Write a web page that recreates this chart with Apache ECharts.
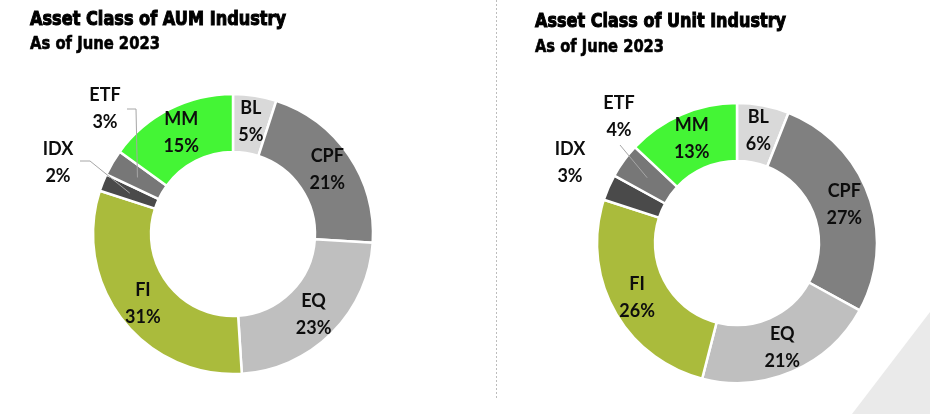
<!DOCTYPE html>
<html><head><meta charset="utf-8">
<script src="https://cdn.jsdelivr.net/npm/echarts@6/dist/echarts.min.js"></script>
<style>html,body{margin:0;padding:0;background:#fff}#c{width:930px;height:414px}</style>
</head><body><div id="c"></div>
<script>
const categories = ['BL', 'CPF', 'EQ', 'FI', 'IDX', 'ETF', 'MM'];
const aumValues = [5, 21, 23, 31, 2, 3, 15];
const unitValues = [6, 27, 21, 26, 3, 4, 13];
const colors = ['#d9d9d9', '#808080', '#bfbfbf', '#aabb3c', '#4a4a4a', '#777777', '#44f535'];
const chartTitles = ['Asset Class of AUM Industry', 'Asset Class of Unit Industry'];
const chartSubtitle = 'As of June 2023';

const R_IN = 82, R_OUT = 140;

function fitScale(text, px, target) {
  const ctx = document.createElement('canvas').getContext('2d');
  ctx.font = 'bold ' + px + 'px "DejaVu Sans"';
  return target / ctx.measureText(text).width;
}

function midPoint(values, idx, center) {
  const total = values.reduce((a, b) => a + b, 0);
  let cum = 0;
  for (let i = 0; i < idx; i++) cum += values[i];
  const frac = (cum + values[idx] / 2) / total;
  const ang = frac * 2 * Math.PI;
  const r = (R_IN + R_OUT) / 2;
  return [center[0] + r * Math.sin(ang), center[1] - r * Math.cos(ang)];
}

// outer label placement (layout only)
const outerLayouts = [
  { ETF: { pos: [105, 109], line: [[127, 109], [136, 109]] },
    IDX: { pos: [58, 163], line: [[80, 161], [90, 161]] } },
  { ETF: { pos: [619, 117], line: [[620, 145], [620, 145]] },
    IDX: { pos: [570, 163], line: null } }
];
const centers = [[233, 234], [737, 243]];
const seriesValues = [aumValues, unitValues];

function makeSeries(values, k) {
  const center = centers[k];
  const outer = outerLayouts[k];
  return {
    type: 'pie',
    center: center,
    radius: [R_IN, R_OUT],
    startAngle: 90,
    clockwise: true,
    avoidLabelOverlap: false,
    animation: false,
    itemStyle: { borderColor: '#fff', borderWidth: 2.5 },
    label: {
      show: true, position: 'inside', formatter: '{b}\n{c}%',
      fontFamily: 'Lato', fontWeight: 'bold', fontSize: 18, lineHeight: 27, color: '#0d0d0d'
    },
    labelLine: { show: false },
    emphasis: { disabled: true },
    data: categories.map((n, i) => {
      const d = { name: n, value: values[i], itemStyle: { color: colors[i] } };
      if (outer[n]) d.label = { position: 'outside' };
      return d;
    }),
    labelLayout: function (p) {
      const o = outer[categories[p.dataIndex]];
      if (!o) return {};
      return { x: o.pos[0], y: o.pos[1], align: 'center', verticalAlign: 'middle' };
    }
  };
}

const titleLayout = [
  { x: 30, y: 10, w: 257, sy: 36, sw: 131 },
  { x: 535, y: 12, w: 252, sy: 39, sw: 130 }
];
const graphics = [];
chartTitles.forEach((t, k) => {
  const L = titleLayout[k];
  graphics.push({
    type: 'text', x: L.x, y: L.y, scaleX: fitScale(t, 20, L.w - 1),
    style: { text: t, font: 'bold 20px "DejaVu Sans"', fill: '#000', stroke: '#000', lineWidth: 1.1,
             textVerticalAlign: 'top', verticalAlign: 'top' }
  });
  graphics.push({
    type: 'text', x: L.x, y: L.sy, scaleX: fitScale(chartSubtitle, 17, L.sw - 1),
    style: { text: chartSubtitle, font: 'bold 17px "DejaVu Sans"', fill: '#000', stroke: '#000', lineWidth: 0.6,
             textVerticalAlign: 'top', verticalAlign: 'top' }
  });
});
// leader lines for outside labels, ending at the slice's mid point
categories.forEach((n, i) => {
  [0, 1].forEach(k => {
    const o = outerLayouts[k][n];
    if (o && o.line) {
      graphics.push({
        type: 'polyline', z: 100,
        shape: { points: [o.line[0], o.line[1], midPoint(seriesValues[k], i, centers[k])] },
        style: { stroke: '#a6a6a6', lineWidth: 1, fill: null }
      });
    }
  });
});
graphics.push({
  type: 'line', shape: { x1: 496.5, y1: 0, x2: 496.5, y2: 398 },
  style: { stroke: '#bdbdbd', lineWidth: 1, lineDash: [2, 2] }
});
graphics.push({
  type: 'polygon', shape: { points: [[930, 312], [930, 414], [852, 414]] },
  style: { fill: '#eaeaea' }
});

const chart = echarts.init(document.getElementById('c'));
chart.setOption({
  backgroundColor: '#fff',
  animation: false,
  graphic: graphics,
  series: [makeSeries(aumValues, 0), makeSeries(unitValues, 1)]
});
</script></body></html>
